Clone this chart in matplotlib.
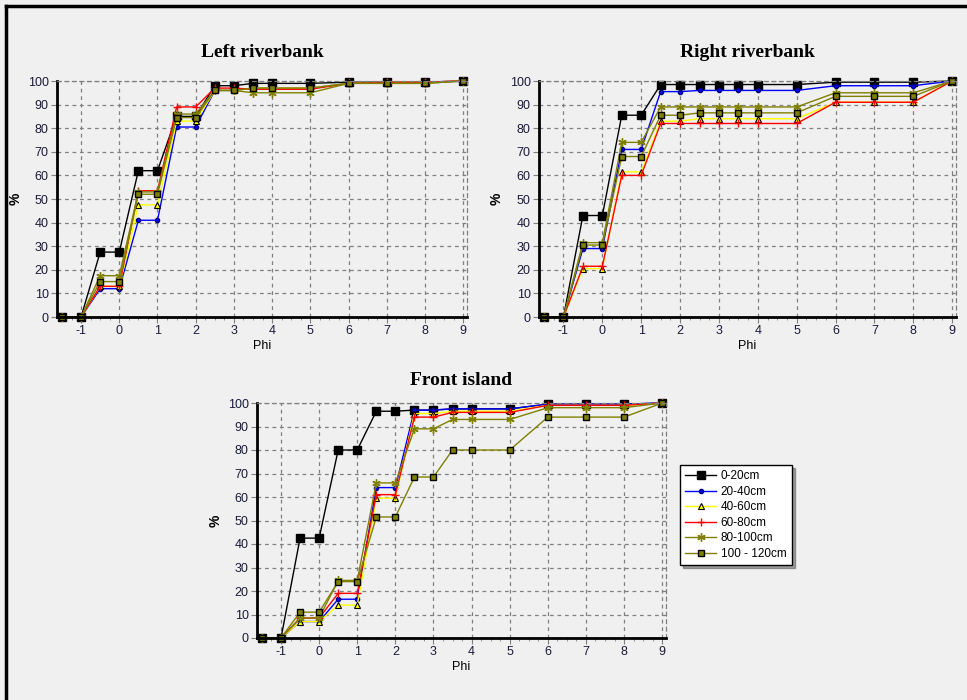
import matplotlib.pyplot as plt
from matplotlib.lines import Line2D
from matplotlib.ticker import MultipleLocator
import numpy as np

plt.rcParams['font.family'] = ['Liberation Sans', 'DejaVu Sans']
plt.rcParams['axes.unicode_minus'] = False

phi = [-1.5, -1, -0.5, 0, 0.5, 1, 1.5, 2, 2.5, 3, 3.5, 4, 5, 6, 7, 8, 9]
series_names = ["0-20cm", "20-40cm", "40-60cm", "60-80cm", "80-100cm", "100 - 120cm"]

left_bank = [
    [0, 0, 27.5, 27.5, 62, 62, 85, 85, 98, 98, 99, 99, 99, 99.5, 99.5, 99.5, 100],
    [0, 0, 12, 12, 41, 41, 80.5, 80.5, 96, 96, 97, 97, 97, 99, 99.5, 99.5, 100],
    [0, 0, 13, 13, 47.5, 47.5, 83, 83, 96, 96, 97, 97, 97, 99, 99.5, 99.5, 100],
    [0, 0, 13, 13, 53.5, 53.5, 89, 89, 97, 97, 96.5, 96.5, 96.5, 99, 99.5, 99.5, 100],
    [0, 0, 17.5, 17.5, 53, 53, 86, 86, 96, 96, 95, 95, 95, 99, 99, 99, 100],
    [0, 0, 15, 15, 52, 52, 84.5, 84.5, 96, 96, 97, 97, 97, 99, 99, 99, 100],
]
right_bank = [
    [0, 0, 43, 43, 85.5, 85.5, 98.5, 98.5, 98.5, 98.5, 98.5, 98.5, 98.5, 99.5, 99.5, 99.5, 100],
    [0, 0, 29, 29, 71, 71, 95.5, 95.5, 96, 96, 96, 96, 96, 98, 98, 98, 100],
    [0, 0, 20.5, 20.5, 61.5, 61.5, 83, 83, 84, 84, 84, 84, 84, 91, 91, 91, 100],
    [0, 0, 21.5, 21.5, 60, 60, 82, 82, 82, 82, 82, 82, 82, 91, 91, 91, 100],
    [0, 0, 31.5, 31.5, 74, 74, 89, 89, 89, 89, 89, 89, 89, 95, 95, 95, 100],
    [0, 0, 30.5, 30.5, 68, 68, 85.5, 85.5, 86.5, 86.5, 86.5, 86.5, 86.5, 93.5, 93.5, 93.5, 100],
]
front_island = [
    [0, 0, 42.5, 42.5, 80, 80, 96.5, 96.5, 97, 97, 97.5, 97.5, 97.5, 99.5, 99.5, 99.5, 100],
    [0, 0, 7, 7, 16.5, 16.5, 64, 64, 97, 97, 97.5, 97.5, 97.5, 99.5, 99.5, 99.5, 100],
    [0, 0, 7, 7, 14, 14, 59.5, 59.5, 95.5, 95.5, 96.5, 96.5, 96.5, 99, 99, 99, 100],
    [0, 0, 8.5, 8.5, 19, 19, 61, 61, 94, 94, 96, 96, 96, 99, 99, 99, 100],
    [0, 0, 8.5, 8.5, 24.5, 24.5, 66, 66, 89, 89, 93, 93, 93, 98, 98, 98, 100],
    [0, 0, 11, 11, 24, 24, 51.5, 51.5, 68.5, 68.5, 80, 80, 80, 94, 94, 94, 100],
]

styles = [
    dict(color="black", marker="s", markersize=5.5, markerfacecolor="black", markeredgecolor="black"),
    dict(color="#0000ff", marker="o", markersize=3, markerfacecolor="#0000ff", markeredgecolor="#000080"),
    dict(color="#ffff00", marker="^", markersize=5, markerfacecolor="#ffff00", markeredgecolor="black", markeredgewidth=0.8),
    dict(color="#ff0000", marker="+", markersize=6, markeredgecolor="#ff0000", markeredgewidth=1),
    dict(color="#808000", marker=(6, 2, 0), markersize=6, markeredgecolor="#808000", markeredgewidth=1),
    dict(color="#808000", marker="s", markersize=5, markerfacecolor="#808000", markeredgecolor="black", markeredgewidth=1),
]

BG = "#f0f0f0"
fig = plt.figure(figsize=(9.67, 7), dpi=100, facecolor=BG)

# black frame only on top and left (the picture is cropped)
fig.add_artist(Line2D([6 / 967, 6 / 967], [0, 1 - 6 / 700], color="black", lw=2.5, transform=fig.transFigure))
fig.add_artist(Line2D([6 / 967, 1], [1 - 6 / 700, 1 - 6 / 700], color="black", lw=2.5, transform=fig.transFigure))


def make_panel(rect, title, data, title_pad):
    ax = fig.add_axes(rect, facecolor=BG)
    for vals, st in zip(data, styles):
        ax.plot(phi, vals, lw=1, clip_on=False, **st)
    ax.set_xlim(-1.63, 9.1)
    ax.set_ylim(0, 100)
    ax.xaxis.set_major_locator(MultipleLocator(1))
    ax.xaxis.set_minor_locator(MultipleLocator(0.25))
    ax.yaxis.set_major_locator(MultipleLocator(10))
    ax.grid(True, which="major", color="#808080", linestyle=(0, (3, 3)), lw=0.9)
    ax.set_axisbelow(True)
    for s in ["left", "bottom"]:
        ax.spines[s].set_color("black")
        ax.spines[s].set_linewidth(2)
    for s in ["top", "right"]:
        ax.spines[s].set_color("#808080")
        ax.spines[s].set_linestyle((0, (3, 3)))
        ax.spines[s].set_linewidth(0.9)
    ax.tick_params(axis="both", which="major", labelsize=9, length=4, color="#808080",
                   labelcolor="#1a1a3a", pad=2)
    ax.tick_params(axis="x", which="minor", length=2, color="#808080")
    ax.set_title(title, fontsize=14, fontweight="bold", family="Liberation Serif", pad=title_pad)
    ax.set_xlabel("Phi", fontsize=9, labelpad=2)
    ax.set_ylabel("%", fontsize=10, fontweight="bold")
    ax.yaxis.set_label_coords(-0.085, 0.5)
    return ax


make_panel([57 / 967, 383 / 700, 410 / 967, 236 / 700], "Left riverbank", left_bank, 17)
make_panel([539 / 967, 383 / 700, 417 / 967, 236 / 700], "Right riverbank", right_bank, 17)
make_panel([257 / 967, 62 / 700, 409 / 967, 235 / 700], "Front island", front_island, 13)

handles = [Line2D([], [], lw=1, **st) for st in styles]
leg = fig.legend(handles, series_names, loc="upper left", bbox_to_anchor=(680 / 967, 1 - 465 / 700),
                 fontsize=8.5, frameon=True, fancybox=False, shadow=True, handlelength=2.6,
                 labelspacing=0.3, borderpad=0.45, handletextpad=0.4, borderaxespad=0)
leg.get_frame().set_edgecolor("black")
leg.get_frame().set_facecolor("white")
leg.get_frame().set_linewidth(1)

fig.savefig("out.png", dpi=100, facecolor=BG)
